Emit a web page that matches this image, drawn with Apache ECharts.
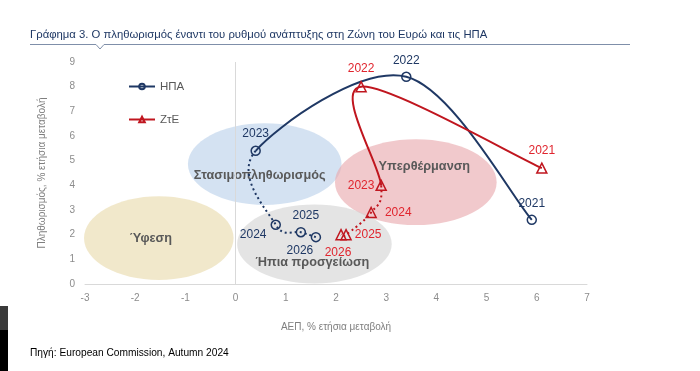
<!DOCTYPE html>
<html>
<head>
<meta charset="utf-8">
<script src="https://cdn.jsdelivr.net/npm/echarts@6/dist/echarts.min.js"></script>
<style>
html,body{margin:0;padding:0;background:#fff;}
#c{width:700px;height:371px;}
</style>
</head>
<body>
<div id="c"></div>
<script>
// ---- data ----
var years = ['2021', '2022', '2023', '2024', '2025', '2026'];
var usGdp = [5.9, 3.4, 0.4, 0.8, 1.3, 1.6];
var usInfl = [2.6, 8.4, 5.4, 2.4, 2.1, 1.9];
var ezGdp = [6.1, 2.5, 2.9, 2.7, 2.2, 2.1];
var ezInfl = [4.7, 8.0, 4.0, 2.9, 2.0, 2.0];
var xTicks = [-3, -2, -1, 0, 1, 2, 3, 4, 5, 6, 7];
var yTicks = [0, 1, 2, 3, 4, 5, 6, 7, 8, 9];
// quadrant regions (data units): centre, semi-axes, label point
var regionNames = ['Στασιμοπληθωρισμός', 'Υπερθέρμανση', 'Ύφεση', 'Ήπια προσγείωση'];
var regionCx = [0.58, 3.59, -1.53, 1.57];
var regionCy = [4.86, 4.13, 1.86, 1.62];
var regionRx = [1.53, 1.61, 1.49, 1.54];
var regionRy = [1.66, 1.74, 1.70, 1.60];
var regionLx = [0.48, 3.76, -1.69, 1.53];
var regionLy = [4.41, 4.78, 1.86, 0.89];
var solidUntil = 2; // index of last year drawn with a solid line (then dotted)

// ---- styles ----
var regionColors = ['rgba(197,216,238,0.75)', 'rgba(232,168,172,0.62)', 'rgba(236,224,186,0.75)', 'rgba(212,212,212,0.62)'];
var US = '#1f3864', EZ = '#c0161f', EZL = '#e0252e';
var FONT = '"Liberation Sans", Arial, sans-serif';

var usLab = {
  '2021': {position: 'top'},
  '2022': {position: 'top'},
  '2023': {position: 'top', distance: 6},
  '2024': {position: 'left', offset: [0, 10], distance: 4},
  '2025': {position: 'top', offset: [5, 0], distance: 5},
  '2026': {position: 'bottom', offset: [-16, -3]}
};
var ezLab = {
  '2021': {position: 'top', distance: 6},
  '2022': {position: 'top', distance: 6},
  '2023': {position: 'left', distance: 1},
  '2024': {position: 'right', distance: 8},
  '2025': {position: 'right', distance: 3},
  '2026': {position: 'bottom', offset: [-3, 0], distance: 6}
};

var countries = [
  {xs: usGdp, ys: usInfl, color: US},
  {xs: ezGdp, ys: ezInfl, color: EZ}
];

function pts(xs, ys, labs) {
  return years.map(function (y, i) {
    return {value: [xs[i], ys[i]], name: y, label: labs[y]};
  });
}

var regionData = regionNames.map(function (n, i) {
  return [regionCx[i], regionCy[i], regionRx[i], regionRy[i], regionLx[i], regionLy[i], i];
});

// Excel-like smoothed path (Catmull-Rom, tension 1/6) through pixel points, segments [a,b)
function smoothPath(p, a, b) {
  var d = 'M' + p[a][0] + ',' + p[a][1];
  for (var i = a; i < b; i++) {
    var p0 = p[Math.max(i - 1, 0)], p1 = p[i], p2 = p[i + 1], p3 = p[Math.min(i + 2, p.length - 1)];
    var c1x = p1[0] + (p2[0] - p0[0]) / 6, c1y = p1[1] + (p2[1] - p0[1]) / 6;
    var c2x = p2[0] - (p3[0] - p1[0]) / 6, c2y = p2[1] - (p3[1] - p1[1]) / 6;
    d += 'C' + c1x + ',' + c1y + ',' + c2x + ',' + c2y + ',' + p2[0] + ',' + p2[1];
  }
  return d;
}

function markerSeries(name, xs, ys, labs, color, labColor, symbol) {
  return {
    type: 'line', name: name, z: 6,
    data: pts(xs, ys, labs),
    symbol: symbol, symbolSize: symbol === 'triangle' ? 10 : 9,
    showAllSymbol: true,
    itemStyle: {color: 'rgba(0,0,0,0)', borderColor: color, borderWidth: 1.5},
    lineStyle: {color: color, width: 2, opacity: 0},
    label: {show: true, formatter: '{b}', color: labColor, fontSize: 12, fontFamily: FONT},
    emphasis: {disabled: true},
    animation: false
  };
}

var chart = echarts.init(document.getElementById('c'), null, {renderer: 'canvas'});
chart.setOption({
  backgroundColor: '#fff',
  animation: false,
  textStyle: {fontFamily: FONT},
  grid: {left: 85, right: 113, top: 62, bottom: 87},
  xAxis: {
    type: 'value', min: xTicks[0], max: xTicks[xTicks.length - 1], interval: 1,
    name: 'ΑΕΠ, % ετήσια μεταβολή', nameLocation: 'middle', nameGap: 38,
    nameTextStyle: {color: '#7f7f7f', fontSize: 10, fontFamily: FONT},
    axisLine: {show: true, onZero: false, lineStyle: {color: '#d9d9d9', width: 1}},
    axisTick: {show: false},
    splitLine: {show: false},
    axisLabel: {color: '#8c8c8c', fontSize: 10, margin: 9, fontFamily: FONT}
  },
  yAxis: {
    type: 'value', min: yTicks[0], max: yTicks[yTicks.length - 1], interval: 1,
    name: 'Πληθωρισμός, % ετήσια μεταβολή', nameLocation: 'middle', nameGap: 38,
    nameTextStyle: {color: '#7f7f7f', fontSize: 10, fontFamily: FONT},
    axisLine: {show: false},
    axisTick: {show: false},
    splitLine: {show: false},
    axisLabel: {color: '#8c8c8c', fontSize: 10, margin: 10, fontFamily: FONT}
  },
  legend: {
    orient: 'vertical', left: 123, top: 75.5, itemGap: 21,
    itemWidth: 26, itemHeight: 7,
    data: ['ΗΠΑ', 'ΖτΕ'],
    lineStyle: {opacity: 1, width: 2},
    textStyle: {color: '#595959', fontSize: 11.5, fontFamily: FONT},
    selectedMode: false
  },
  graphic: [
    {type: 'text', left: 30, top: 29.5, style: {text: 'Γράφημα 3. Ο πληθωρισμός έναντι του ρυθμού ανάπτυξης στη Ζώνη του Ευρώ και τις ΗΠΑ', fill: '#1f3864', font: '11.3px ' + FONT}},
    {type: 'polyline', shape: {points: [[30, 44.5], [96, 44.5], [100, 49], [104, 44.5], [630, 44.5]]}, style: {stroke: '#7f8fa9', lineWidth: 1, fill: null}},
    {type: 'text', left: 30, top: 348, style: {text: 'Πηγή: European Commission, Autumn 2024', fill: '#000', font: '10.2px ' + FONT}},
    {type: 'rect', shape: {x: 0, y: 306, width: 8, height: 24}, style: {fill: '#3a3a3a'}},
    {type: 'rect', shape: {x: 0, y: 330, width: 8, height: 41}, style: {fill: '#000'}}
  ],
  series: [
    {
      type: 'custom', name: 'regions', z: 1, silent: true,
      data: regionData,
      encode: {x: 0, y: 1},
      renderItem: function (params, api) {
        var c = api.coord([api.value(0), api.value(1)]);
        var s = api.size([api.value(2), api.value(3)]);
        var l = api.coord([api.value(4), api.value(5)]);
        var i = api.value(6);
        return {
          type: 'group',
          children: [
            {type: 'ellipse', shape: {cx: c[0], cy: c[1], rx: s[0], ry: s[1]}, style: {fill: regionColors[i]}},
            {type: 'text', x: l[0], y: l[1], z2: 10, style: {text: regionNames[i], fill: '#595959', font: 'bold 12.7px ' + FONT, align: 'center', verticalAlign: 'middle'}}
          ]
        };
      },
      markLine: {
        silent: true, symbol: ['none', 'none'], label: {show: false},
        lineStyle: {color: '#d9d9d9', width: 1, type: 'solid'},
        data: [{xAxis: 0}]
      },
      animation: false
    },
    {
      type: 'custom', name: 'curves', z: 4, silent: true,
      data: countries.map(function (c, k) { return [c.xs[0], c.ys[0], k]; }),
      encode: {x: 0, y: 1},
      renderItem: function (params, api) {
        var c = countries[api.value(2)];
        var p = c.xs.map(function (x, i) { return api.coord([x, c.ys[i]]); });
        return {
          type: 'group',
          children: [
            {type: 'path', shape: {pathData: smoothPath(p, 0, solidUntil)}, style: {stroke: c.color, fill: 'none', lineWidth: 2}},
            {type: 'path', shape: {pathData: smoothPath(p, solidUntil, p.length - 1)}, style: {stroke: c.color, fill: 'none', lineWidth: 2, lineDash: [2, 3]}}
          ]
        };
      },
      animation: false
    },
    markerSeries('ΗΠΑ', usGdp, usInfl, usLab, US, US, 'circle'),
    markerSeries('ΖτΕ', ezGdp, ezInfl, ezLab, EZ, EZL, 'triangle')
  ]
});
</script>
</body>
</html>
